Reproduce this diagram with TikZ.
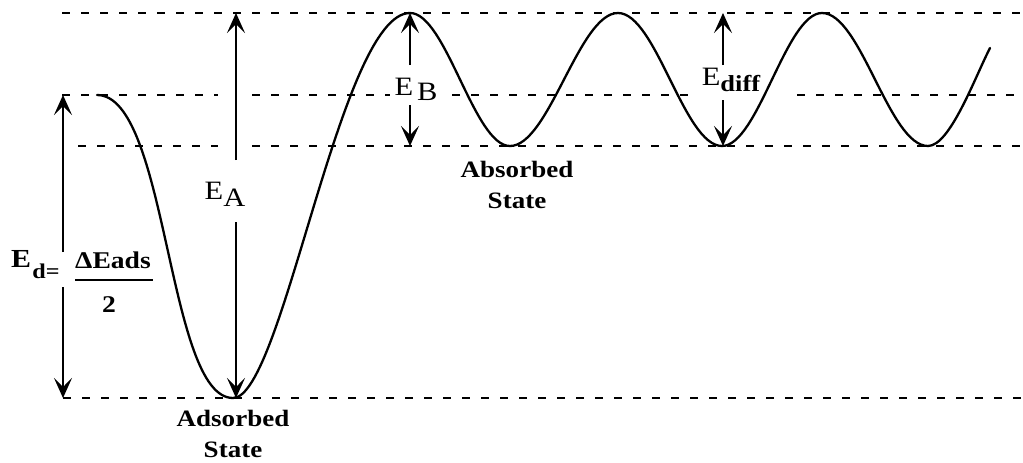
\documentclass[tikz,border=0pt]{standalone}
\usepackage{fontspec}
\setmainfont{Liberation Serif}[FakeStretch=1.15]
\usetikzlibrary{arrows.meta}
\begin{document}
\begin{tikzpicture}[x=1pt,y=-1pt,
  lvl/.style={line width=2.3pt, dash pattern=on 8pt off 11pt},
  curve/.style={line width=2.3pt, line join=round, line cap=round},
  dim/.style={line width=1.2pt, -{Stealth[length=20pt,width=18pt,inset=9pt]}},
  bl/.style={font=\fontsize{23.5}{31}\selectfont\bfseries, align=center, inner sep=0pt},
  el/.style={font=\fontsize{26.5}{30}\selectfont, inner sep=0pt}]
\useasboundingbox (0,0) rectangle (1023,463);
% level lines
\coordinate (a1) at (62,13);   \coordinate (a2) at (1023,13);
\coordinate (b1) at (62,95);   \coordinate (b2) at (218,95);
\coordinate (b3) at (252,95);  \coordinate (b4) at (390,95);
\coordinate (b5) at (452,95);  \coordinate (b6) at (692,95);
\coordinate (b7) at (797,95);  \coordinate (b8) at (1023,95);
\coordinate (c1) at (78,146);  \coordinate (c2) at (218,146);
\coordinate (c3) at (252,146); \coordinate (c4) at (1023,146);
\coordinate (d1) at (63,398);  \coordinate (d2) at (1023,398);
\draw[lvl] (a1) -- (a2);
\draw[lvl] (b1) -- (b2) (b3) -- (b4) (b5) -- (b6) (b7) -- (b8);
\draw[lvl] (c1) -- (c2) (c3) -- (c4);
\draw[lvl] (d1) -- (d2);
% energy curve
\coordinate (p0) at (97,95);
\coordinate (m1) at (233,398);
\coordinate (t1) at (410,13);
\coordinate (m2) at (510,146);
\coordinate (t2) at (618,13);
\coordinate (m3) at (722,146);
\coordinate (t3) at (822,13);
\coordinate (m4) at (928,146);
\coordinate (pe) at (990,48);
\draw[curve] (p0) .. controls (168,95) and (167,398) .. (m1)
  .. controls (283,398) and (340,13) .. (t1)
  .. controls (446,13) and (474,146) .. (m2)
  .. controls (549,146) and (579,13) .. (t2)
  .. controls (656,13) and (684,146) .. (m3)
  .. controls (758,146) and (786,13) .. (t3)
  .. controls (861,13) and (889,146) .. (m4)
  .. controls (950,146) and (975,77) .. (pe);
% labels
\node[bl] (ads) at (233,434) {Adsorbed\\State};
\node[bl] (abs) at (517,185) {Absorbed\\State};
% E_d
\node[font=\fontsize{26}{28}\selectfont\bfseries, inner sep=0pt] (Ed) at (21,259) {E};
\node[font=\fontsize{21}{22}\selectfont\bfseries, inner sep=0pt] (Edd) at (46,271) {d=};
\node[font=\fontsize{24}{28}\selectfont\bfseries, inner sep=0pt] (dE) at (113,260) {ΔEads};
\node[font=\fontsize{24}{28}\selectfont\bfseries, inner sep=0pt] (two) at (109,305) {2};
\coordinate (u1) at (75,280); \coordinate (u2) at (153,280);
\draw[line width=2pt] (u1) -- (u2);
\coordinate (ed1) at (63,252); \coordinate (ed2) at (63,287);
\coordinate (edT) at (63,95);  \coordinate (edB) at (63,398);
\draw[dim] (ed1) -- (edT);
\draw[dim] (ed2) -- (edB);
% E_A
\node[el] (EA) at (225,194) {E\raisebox{-7pt}{A}};
\coordinate (ea1) at (236,160); \coordinate (ea2) at (236,222);
\coordinate (eaT) at (236,13);  \coordinate (eaB) at (236,398);
\draw[dim] (ea1) -- (eaT);
\draw[dim] (ea2) -- (eaB);
% E_B
\node[el] (EB) at (416,89) {E\hspace{4pt}\raisebox{-5pt}{B}};
\coordinate (eb1) at (410,65); \coordinate (eb2) at (410,105);
\coordinate (ebT) at (410,13); \coordinate (ebB) at (410,146);
\draw[dim] (eb1) -- (ebT);
\draw[dim] (eb2) -- (ebB);
% E_diff
\node[el] (Edf) at (731,80) {E\raisebox{-6pt}{\bfseries\fontsize{23}{24}\selectfont diff}};
\coordinate (ef1) at (723,65); \coordinate (ef2) at (723,100);
\coordinate (efT) at (723,13); \coordinate (efB) at (723,146);
\draw[dim] (ef1) -- (efT);
\draw[dim] (ef2) -- (efB);
\end{tikzpicture}
\end{document}
